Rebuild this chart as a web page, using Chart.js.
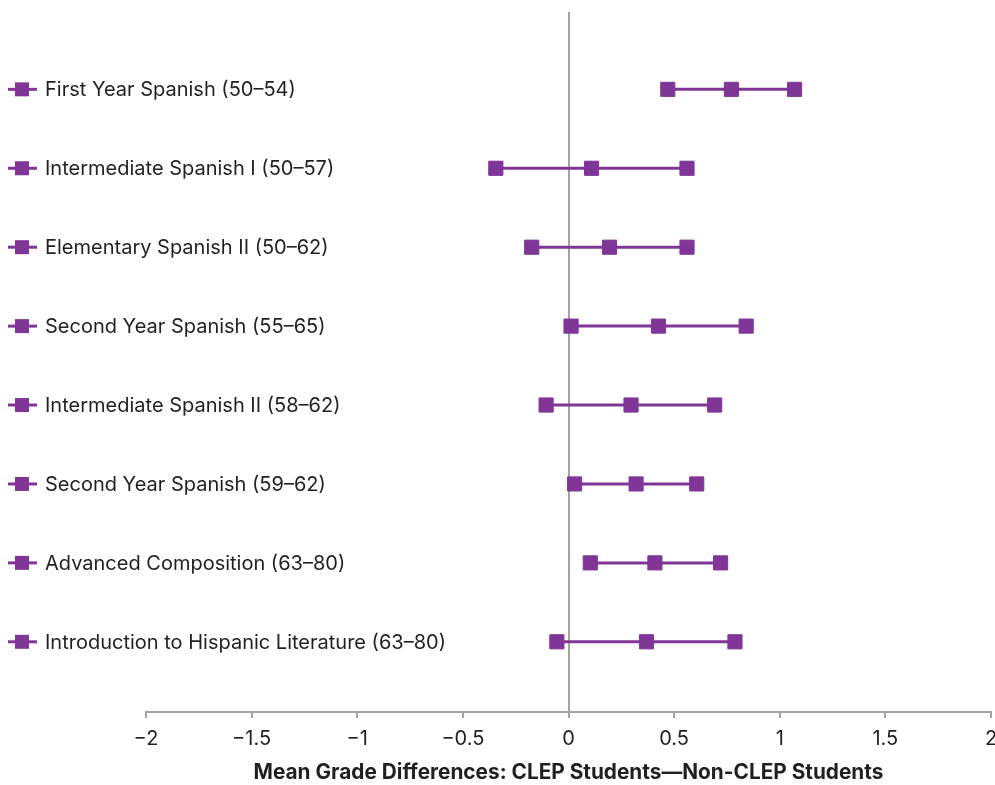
<!DOCTYPE html>
<html>
<head>
<meta charset="utf-8">
<script src="https://cdn.jsdelivr.net/npm/chart.js@4"></script>
<style>
  html, body { margin: 0; padding: 0; background: #fff; }
  #wrap { width: 995px; height: 785px; }
</style>
</head>
<body>
<div id="wrap"><canvas id="myChart"></canvas></div>
<script>
// Datos

const cursos = [
  "First Year Spanish (50–54)",
  "Intermediate Spanish I (50–57)",
  "Elementary Spanish II (50–62)",
  "Second Year Spanish (55–65)",
  "Intermediate Spanish II (58–62)",
  "Second Year Spanish (59–62)",
  "Advanced Composition (63–80)",
  "Introduction to Hispanic Literature (63–80)"
];
const bajo  = [0.47, -0.344, -0.174, 0.012, -0.106, 0.029, 0.103, -0.055];
const medio = [0.771, 0.109, 0.194, 0.426, 0.296, 0.320, 0.409, 0.369];
const alto  = [1.07, 0.561, 0.561, 0.841, 0.692, 0.607, 0.720, 0.788];

const morado = "#7f3697";
const gris = "#a3a3a3";
const texto = "#231f20";
const fuente = "Inter, 'Open Sans', sans-serif";

// Un dataset por curso (fila)
let datos = cursos.map((c, i) => {
  let fila = cursos.length - i;
  return {
    label: c,
    data: [
      { x: bajo[i], y: fila },
      { x: medio[i], y: fila },
      { x: alto[i], y: fila }
    ],
    borderColor: morado,
    backgroundColor: morado,
    borderWidth: 3,
    pointStyle: "rect",
    pointRadius: 10,
    pointBorderWidth: 1,
    pointBackgroundColor: morado,
    pointBorderColor: morado,
    showLine: true,
    fill: false
  };
});

// Etiquetas con marcador a la izquierda
const etiquetas = {
  id: "etiquetas",
  afterDraw(chart) {
    const ctx = chart.ctx;
    const y = chart.scales.y;
    ctx.save();
    chart.data.datasets.forEach(ds => {
      let py = y.getPixelForValue(ds.data[0].y);
      ctx.strokeStyle = morado;
      ctx.lineWidth = 3;
      ctx.beginPath();
      ctx.moveTo(8, py);
      ctx.lineTo(37, py);
      ctx.stroke();
      ctx.fillStyle = morado;
      ctx.fillRect(15, py - 7, 14, 14);
      ctx.fillStyle = texto;
      ctx.font = "20px " + fuente;
      ctx.textAlign = "left";
      ctx.textBaseline = "middle";
      ctx.fillText(ds.label, 45, py + 1);
    });
    ctx.restore();
  }
};

const ctx = document.getElementById("myChart").getContext("2d");
const myChart = new Chart(ctx, {
  type: "scatter",
  data: { datasets: datos },
  options: {
    responsive: true,
    maintainAspectRatio: false,
    animation: false,
    layout: { autoPadding: false, padding: { top: 12, left: 146, right: 4, bottom: 0 } },
    plugins: {
      legend: { display: false },
      tooltip: { enabled: false }
    },
    scales: {
      x: {
        type: "linear",
        min: -2,
        max: 2,
        afterFit: s => { s.paddingRight = 0; s.paddingLeft = 0; },
        ticks: {
          stepSize: 0.5,
          color: texto,
          padding: 9,
          font: { family: fuente, size: 20 },
          callback: v => (v < 0 ? "\u2212" + Math.abs(v) : "" + v)
        },
        grid: {
          color: c => (c.tick && c.tick.value === 0 ? gris : "rgba(0,0,0,0)"),
          lineWidth: 2,
          tickColor: gris,
          tickWidth: 2,
          tickLength: 6
        },
        border: { color: gris, width: 2 },
        title: {
          display: true,
          text: "Mean Grade Differences: CLEP Students\u2014Non-CLEP Students",
          color: texto,
          font: { family: fuente, size: 20.8, weight: "bold" },
          padding: { top: 0, bottom: 0 }
        }
      },
      y: {
        type: "linear",
        display: false,
        min: 0.11,
        max: 8.98
      }
    }
  },
  plugins: [etiquetas]
});
</script>
</body>
</html>
